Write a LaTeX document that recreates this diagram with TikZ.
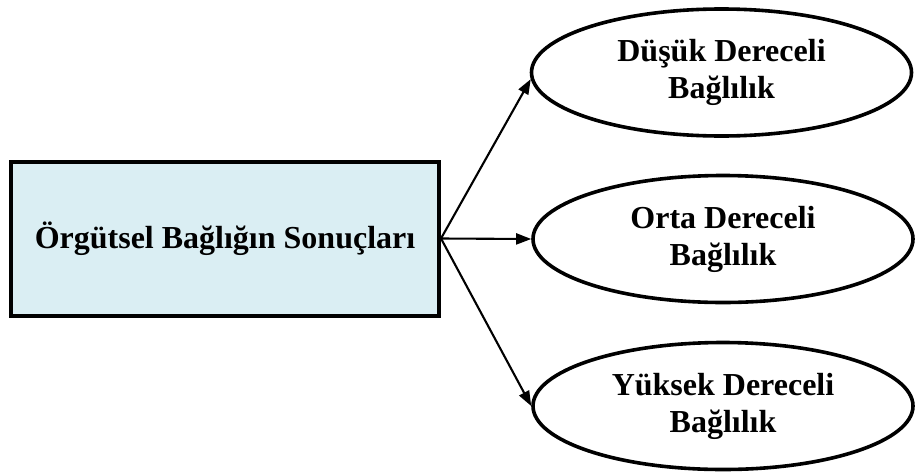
\documentclass[tikz,border=0pt]{standalone}
\usepackage{fontspec}
\setmainfont{Liberation Serif}
\usetikzlibrary{shapes.geometric,arrows.meta}
\definecolor{boxfill}{HTML}{DAEEF3}
\tikzset{
  mainbox/.style={draw=black, line width=4pt, fill=boxfill, rectangle,
    minimum width=428pt, minimum height=154pt, inner sep=0pt,
    font=\fontsize{32}{37}\selectfont\bfseries},
  levelbox/.style={draw=black, line width=3.6pt, ellipse,
    minimum width=380pt, minimum height=127pt, inner sep=0pt, align=center,
    font=\fontsize{32}{37}\selectfont\bfseries},
  link/.style={line width=2.1pt, -{Triangle[length=15pt,width=11pt]}}
}
\begin{document}
\begin{tikzpicture}[x=1pt,y=-1pt]
  \useasboundingbox (0,0) rectangle (917,474);
  % source box
  \node[mainbox] (src) at (225,238.5) {Örgütsel Bağlığın Sonuçları};
  % three levels of commitment
  \node[levelbox] (low) at (721.5,72.5) {Düşük Dereceli\\Bağlılık};
  \node[levelbox] (mid) at (723,239) {Orta Dereceli\\Bağlılık};
  \node[levelbox] (high) at (723,406) {Yüksek Dereceli\\Bağlılık};
  % connectors
  \draw[link] (src.east) -- (low.182);
  \draw[link] (src.east) -- (mid.west);
  \draw[link] (src.east) -- (high.west);
\end{tikzpicture}
\end{document}
